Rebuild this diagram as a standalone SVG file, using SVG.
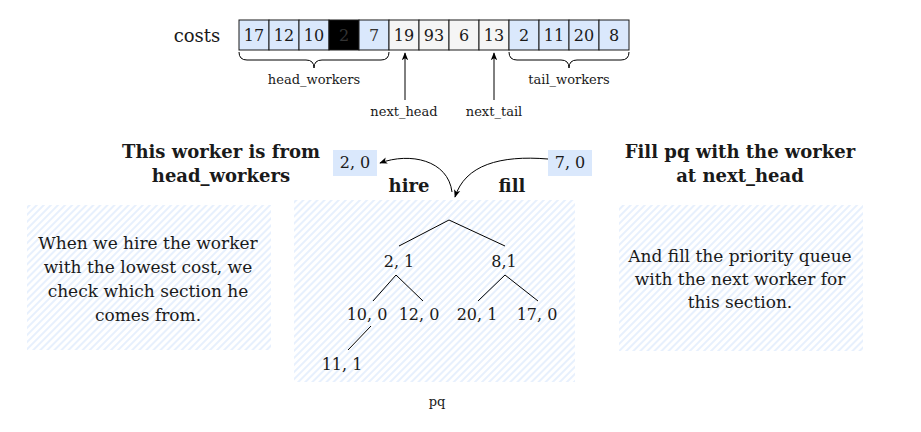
<svg xmlns="http://www.w3.org/2000/svg" width="921" height="432" viewBox="0 0 921 432">
<defs>
<style>
text{font-family:"DejaVu Serif","Liberation Serif",serif;fill:#1a1a1a;text-anchor:middle}
.num{font-size:16px}
.small{font-size:13px}
.body{font-size:17px}
.title{font-size:18px;font-weight:bold}
.blue{fill:#dae8fc;stroke:#1a1a1a;stroke-width:1}
.grey{fill:#f5f5f5;stroke:#1a1a1a;stroke-width:1}
.blk{fill:#000;stroke:#1a1a1a;stroke-width:1}
.line{fill:none;stroke:#000;stroke-width:1}
.hatch{fill:url(#hatch)}
</style>
<pattern id="hatch" width="5" height="5" patternUnits="userSpaceOnUse" patternTransform="rotate(45)">
<rect width="5" height="5" fill="#fff"/>
<line x1="1" y1="0" x2="1" y2="5" stroke="#dae8fc" stroke-width="1.3"/>
</pattern>
<marker id="arr" viewBox="0 0 10 10" refX="9" refY="5" markerWidth="8" markerHeight="8" orient="auto" markerUnits="userSpaceOnUse">
<path d="M0,1 L10,5 L0,9 L2.5,5 Z" fill="#000"/>
</marker>
</defs>
<rect width="921" height="432" fill="#fff"/>

<g id="costs-label"><text x="197" y="42" style="font-size:18px">costs</text></g>

<g id="costs-array">
<rect class="blue" x="239" y="20" width="30" height="30"/><text class="num" x="254" y="41">17</text>
<rect class="blue" x="269" y="20" width="30" height="30"/><text class="num" x="284" y="41">12</text>
<rect class="blue" x="299" y="20" width="30" height="30"/><text class="num" x="314" y="41">10</text>
<rect class="blk" x="329" y="20" width="30" height="30"/><text class="num" x="344" y="41" style="fill:#333">2</text>
<rect class="blue" x="359" y="20" width="30" height="30"/><text class="num" x="374" y="41" style="fill:#333">7</text>
<rect class="grey" x="389" y="20" width="30" height="30"/><text class="num" x="404" y="41">19</text>
<rect class="grey" x="419" y="20" width="30" height="30"/><text class="num" x="434" y="41">93</text>
<rect class="grey" x="449" y="20" width="30" height="30"/><text class="num" x="464" y="41">6</text>
<rect class="grey" x="479" y="20" width="30" height="30"/><text class="num" x="494" y="41">13</text>
<rect class="blue" x="509" y="20" width="30" height="30"/><text class="num" x="524" y="41">2</text>
<rect class="blue" x="539" y="20" width="30" height="30"/><text class="num" x="554" y="41">11</text>
<rect class="blue" x="569" y="20" width="30" height="30"/><text class="num" x="584" y="41">20</text>
<rect class="blue" x="599" y="20" width="30" height="30"/><text class="num" x="614" y="41">8</text>
</g>

<g id="head-brace">
<path class="line" d="M239,52 Q239,60 247,60 L306,60 Q314,60 314,68 Q314,60 322,60 L381,60 Q389,60 389,52"/>
<text class="small" x="314" y="84">head_workers</text>
</g>
<g id="tail-brace">
<path class="line" d="M509,52 Q509,60 517,60 L561,60 Q569,60 569,68 Q569,60 577,60 L621,60 Q629,60 629,52"/>
<text class="small" x="569" y="84">tail_workers</text>
</g>
<g id="next-head"><text class="small" x="404" y="116">next_head</text></g>
<g id="next-tail"><text class="small" x="494" y="116">next_tail</text></g>

<g id="left-title">
<text class="title" x="221" y="158">This worker is from</text>
<text class="title" x="221" y="182">head_workers</text>
</g>
<g id="right-title">
<text class="title" x="740" y="158">Fill pq with the worker</text>
<text class="title" x="740" y="182">at next_head</text>
</g>

<g id="popped">
<rect x="333" y="150" width="44" height="26" fill="#dae8fc"/>
<text class="num" x="355" y="168">2, 0</text>
</g>
<g id="incoming">
<rect x="548" y="150" width="44" height="26" fill="#dae8fc"/>
<text class="num" x="570" y="168">7, 0</text>
</g>
<g id="hire-label"><text class="title" x="409" y="192">hire</text></g>
<g id="fill-label"><text class="title" x="512" y="192">fill</text></g>

<g id="left-note">
<rect class="hatch" x="27" y="205" width="244" height="145"/>
<text class="body" x="148" y="249">When we hire the worker</text>
<text class="body" x="148" y="273">with the lowest cost, we</text>
<text class="body" x="148" y="297">check which section he</text>
<text class="body" x="148" y="321">comes from.</text>
</g>
<g id="right-note">
<rect class="hatch" x="619" y="205" width="244" height="146"/>
<text class="body" x="740" y="262">And fill the priority queue</text>
<text class="body" x="740" y="285">with the next worker for</text>
<text class="body" x="740" y="308">this section.</text>
</g>

<g id="pq">
<rect class="hatch" x="294" y="200" width="281" height="182"/>
<text class="num" x="399" y="267">2, 1</text>
<text class="num" x="504" y="267">8,1</text>
<text class="num" x="367" y="320">10, 0</text>
<text class="num" x="419" y="320">12, 0</text>
<text class="num" x="477" y="320">20, 1</text>
<text class="num" x="537" y="320">17, 0</text>
<text class="num" x="342" y="370">11, 1</text>
<text class="small" x="437" y="406">pq</text>
</g>

<g id="connectors">
<path class="line" d="M405,100 L405,53" marker-end="url(#arr)"/>
<path class="line" d="M494,100 L494,53" marker-end="url(#arr)"/>
<path class="line" d="M452,192 C448,160 410,152 380,163" marker-end="url(#arr)"/>
<path class="line" d="M548,159 C500,155 465,165 455,197" marker-end="url(#arr)"/>
<path class="line" d="M399,246 L449,220 L505,246"/>
<path class="line" d="M373,301 L396,275 L423,301"/>
<path class="line" d="M478,301 L505,275 L538,301"/>
<path class="line" d="M371,326 L348,350"/>
</g>
</svg>
